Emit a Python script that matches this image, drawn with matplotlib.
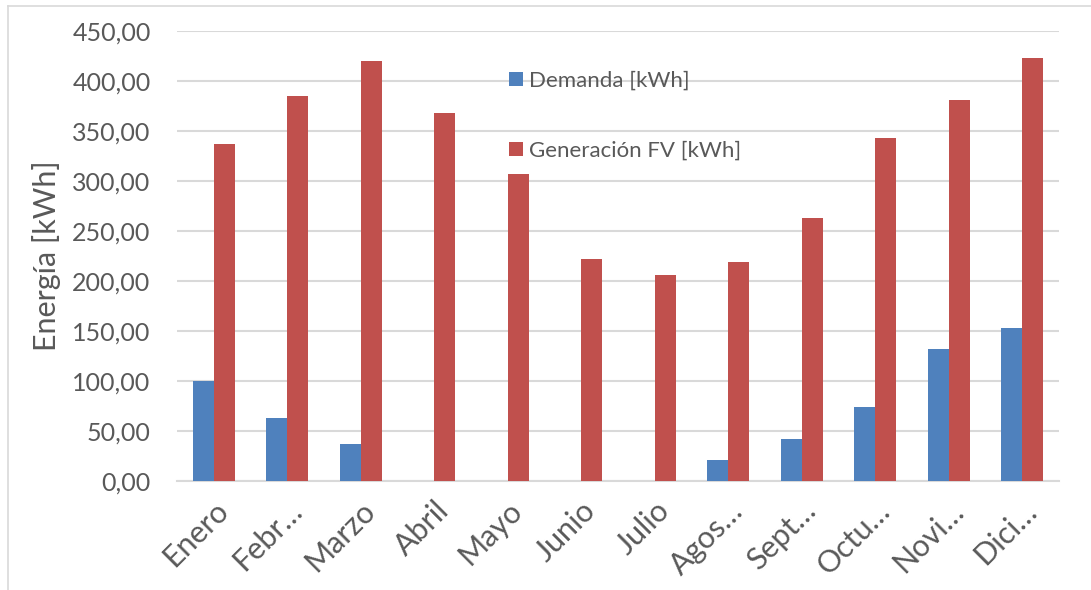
import matplotlib
matplotlib.use("Agg")
import matplotlib.pyplot as plt
import numpy as np
from matplotlib.lines import Line2D

meses = ["Enero", "Febr…", "Marzo", "Abril", "Mayo", "Junio", "Julio",
         "Agos…", "Sept…", "Octu…", "Novi…", "Dici…"]
demanda = [100.5, 63.5, 37.0, 0, 0, 0, 0, 21.0, 42.5, 74.0, 132.0, 153.0]
generacion = [337.5, 385.0, 420.5, 368.5, 307.5, 222.5, 206.0, 219.5, 263.0, 343.0, 381.0, 423.5]
yticks = [0, 50, 100, 150, 200, 250, 300, 350, 400, 450]

plt.rcParams['font.family'] = ['Lato', 'DejaVu Sans']
txt = '#595959'
blue = '#4F81BD'
red = '#C0504D'
grid = '#D9D9D9'

fig = plt.figure(figsize=(10.91, 5.90), dpi=100)
ax = fig.add_axes([177/1091, 1-481/590, (1059-177)/1091, 450/590])

x = np.arange(len(meses))
w = 0.285
ax.bar(x - w/2, demanda, w, color=blue, label="Demanda [kWh]", zorder=3)
ax.bar(x + w/2, generacion, w, color=red, label="Generación FV [kWh]", zorder=3)

ax.set_xlim(-0.5, len(meses) - 0.5)
ax.set_ylim(0, 450)
ax.set_yticks(yticks)
ax.set_yticklabels([f"{v:.2f}".replace('.', ',') for v in yticks], fontsize=18, color=txt)
ax.yaxis.grid(True, color=grid, linewidth=1.5, zorder=0)
ax.set_axisbelow(True)
ax.set_xticks(x)
ax.set_xticklabels(meses, rotation=45, ha='right', rotation_mode='anchor', fontsize=22, color=txt)
ax.tick_params(axis='y', length=0, pad=19)
ax.tick_params(axis='x', length=0, pad=11)
for s in ['top', 'right', 'left']:
    ax.spines[s].set_visible(False)
ax.spines['bottom'].set_color(grid)
ax.spines['bottom'].set_linewidth(1.5)
ax.set_ylabel("Energía [kWh]", fontsize=22, color=txt, labelpad=8)

leg = fig.legend(loc='upper left', bbox_to_anchor=(489/1091, 1-51/590), frameon=False,
                 fontsize=16, labelcolor=txt, handlelength=0.62, handleheight=0.62,
                 handletextpad=0.3, labelspacing=2.25)

# outer chart border (top and left visible)
fig.add_artist(Line2D([8/1091, 8/1091], [0, 1-6/590], transform=fig.transFigure, color=grid, linewidth=1.2))
fig.add_artist(Line2D([8/1091, 1], [1-6/590, 1-6/590], transform=fig.transFigure, color=grid, linewidth=1.2))

fig.savefig("out.png", dpi=100)
